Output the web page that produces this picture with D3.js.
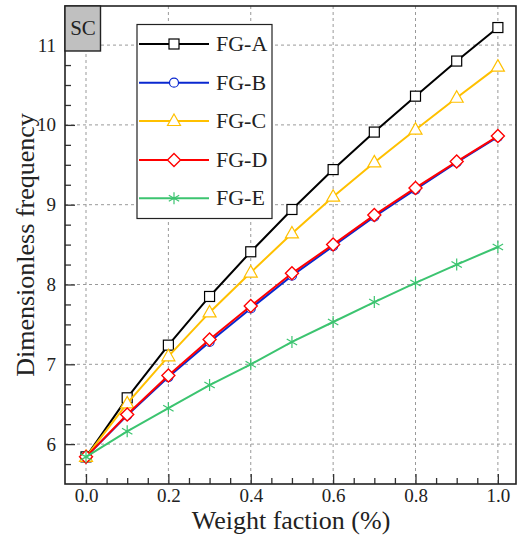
<!DOCTYPE html>
<html><head><meta charset="utf-8">
<script src="https://cdn.jsdelivr.net/npm/d3@7"></script>
<style>body{margin:0;background:#fff}svg{display:block}</style>
</head><body><svg id="c" width="517" height="538"></svg>
<script>
const xValues = [0,0.1,0.2,0.3,0.4,0.5,0.6,0.7,0.8,0.9,1.0];
const fgA = [5.84,6.58,7.24,7.85,8.41,8.94,9.44,9.91,10.36,10.80,11.22];
const fgB = [5.84,6.36,6.84,7.28,7.70,8.11,8.48,8.85,9.19,9.53,9.85];
const fgC = [5.84,6.51,7.10,7.65,8.15,8.64,9.10,9.53,9.94,10.34,10.73];
const fgD = [5.84,6.37,6.86,7.31,7.73,8.14,8.50,8.87,9.21,9.54,9.86];
const fgE = [5.84,6.16,6.45,6.74,7.00,7.28,7.53,7.78,8.02,8.25,8.47];
const seriesNames = ["FG-A","FG-B","FG-C","FG-D","FG-E"];
const xTicks = [0,0.2,0.4,0.6,0.8,1.0];
const yTicks = [6,7,8,9,10,11];

const svg = d3.select("#c");

// pick an installed serif font by measuring against monospace fallback
const probe = svg.append("text").attr("x",-1000).attr("y",-1000).attr("font-size",40).text("Weight faction mmmWiil 0.4");
function w(f){ probe.style("font-family",f); return probe.node().getComputedTextLength(); }
const base = w("monospace");
const cands = ["Liberation Serif","DejaVu Serif","Tinos","Noto Serif","Times New Roman","Times","FreeSerif","Latin Modern Roman","CMU Serif"];
let chosen = null;
for(const c of cands){ if(Math.abs(w(`'${c}', monospace`)-base)>0.5){ chosen=c; break; } }
probe.remove();
const FONT = chosen ? `'${chosen}', serif` : "serif";

const series = [
  {name:"FG-A", vals:fgA, color:"#000000", sym:"square"},
  {name:"FG-B", vals:fgB, color:"#0a28d0", sym:"circle"},
  {name:"FG-C", vals:fgC, color:"#ffc000", sym:"triangle"},
  {name:"FG-D", vals:fgD, color:"#ff0000", sym:"diamond"},
  {name:"FG-E", vals:fgE, color:"#3cc470", sym:"star"}
];

const L=65, R=516, T=6, B=484;
const x = d3.scaleLinear().domain([-0.051,1.044]).range([L,R]);
const y = d3.scaleLinear().domain([5.5,11.49]).range([B,T]);

// grid
const g = svg.append("g");
g.selectAll(".gx").data(xTicks).join("line")
  .attr("x1",d=>x(d)).attr("x2",d=>x(d)).attr("y1",T).attr("y2",B)
  .attr("stroke","#999").attr("stroke-width",1).attr("stroke-dasharray","3,3");
g.selectAll(".gy").data(yTicks).join("line")
  .attr("x1",L).attr("x2",R).attr("y1",d=>y(d)).attr("y2",d=>y(d))
  .attr("stroke","#999").attr("stroke-width",1).attr("stroke-dasharray","3,3");

// axes (ticks inward)
const xMinor = d3.range(0,1.0001,0.05).map(v=>+v.toFixed(2)).filter(v=>!xTicks.some(t=>Math.abs(t-v)<1e-6));
const yMinor = d3.range(5.75,11.3,0.25).map(v=>+v.toFixed(2)).filter(v=>!yTicks.some(t=>Math.abs(t-v)<1e-6));
svg.append("g").attr("transform",`translate(0,${B})`)
  .call(d3.axisBottom(x).tickValues(xMinor).tickSize(-6).tickFormat(""))
  .call(a=>a.select(".domain").remove()).selectAll("line").attr("stroke","#333").attr("stroke-width",1.3);
svg.append("g").attr("transform",`translate(0,${B})`)
  .call(d3.axisBottom(x).tickValues(xTicks).tickSize(-10).tickFormat(d3.format(".1f")))
  .call(a=>a.select(".domain").remove())
  .call(a=>a.selectAll("line").attr("stroke","#333").attr("stroke-width",1.3))
  .call(a=>a.selectAll("text").attr("font-size",19).attr("y",18).attr("dy",0));
svg.append("g").attr("transform",`translate(${L},0)`)
  .call(d3.axisLeft(y).tickValues(yMinor).tickSize(-6).tickFormat(""))
  .call(a=>a.select(".domain").remove()).selectAll("line").attr("stroke","#333").attr("stroke-width",1.3);
svg.append("g").attr("transform",`translate(${L},0)`)
  .call(d3.axisLeft(y).tickValues(yTicks).tickSize(-10).tickFormat(d3.format("d")))
  .call(a=>a.select(".domain").remove())
  .call(a=>a.selectAll("line").attr("stroke","#333").attr("stroke-width",1.3))
  .call(a=>a.selectAll("text").attr("font-size",19).attr("x",-9));
svg.selectAll("g").attr("font-family",null);

// frame
svg.append("rect").attr("x",L).attr("y",T).attr("width",R-L).attr("height",B-T)
  .attr("fill","none").attr("stroke","#222").attr("stroke-width",1.6);

// lines
const line = d3.line().x((d,i)=>x(xValues[i])).y(d=>y(d));
function marker(sel, sym, color, cx, cy){
  const gg = sel.append("g").attr("transform",`translate(${cx},${cy})`);
  if(sym==="square") gg.append("rect").attr("x",-5).attr("y",-5).attr("width",10).attr("height",10).attr("fill","#fff").attr("stroke",color).attr("stroke-width",1.2);
  else if(sym==="circle") gg.append("circle").attr("r",4.5).attr("fill","#fff").attr("stroke",color).attr("stroke-width",1.2);
  else if(sym==="triangle") gg.append("path").attr("d","M0,-7L6.5,4.5L-6.5,4.5Z").attr("fill","#fff").attr("stroke",color).attr("stroke-width",1.2);
  else if(sym==="diamond") gg.append("path").attr("d","M0,-6.5L6.5,0L0,6.5L-6.5,0Z").attr("fill","#fff").attr("stroke",color).attr("stroke-width",1.4);
  else if(sym==="star") gg.append("path").attr("d","M0,-6V6M-5.2,-3L5.2,3M-5.2,3L5.2,-3").attr("fill","none").attr("stroke",color).attr("stroke-width",1.2);
}
series.forEach(s=>{
  svg.append("path").datum(s.vals).attr("d",line).attr("fill","none").attr("stroke",s.color).attr("stroke-width",2);
  const mg = svg.append("g");
  s.vals.forEach((v,i)=>marker(mg,s.sym,s.color,x(xValues[i]),y(v)));
});

// SC box
svg.append("rect").attr("x",L).attr("y",T).attr("width",35.5).attr("height",45)
  .attr("fill","#c0c0c0").attr("stroke","#222").attr("stroke-width",1.4);
svg.append("text").attr("x",L+18).attr("y",T+29).attr("text-anchor","middle").attr("font-size",21).text("SC");

// legend
const lg = svg.append("g");
lg.append("rect").attr("x",137).attr("y",24.5).attr("width",135).attr("height",194)
  .attr("fill","#fff").attr("stroke","#222").attr("stroke-width",1.2);
const legY = [44,82.7,121,160,198.3];
series.forEach((s,i)=>{
  lg.append("line").attr("x1",139).attr("x2",209).attr("y1",legY[i]).attr("y2",legY[i]).attr("stroke",s.color).attr("stroke-width",2);
  marker(lg,s.sym,s.color,174,legY[i]);
  lg.append("text").attr("x",216).attr("y",legY[i]+7).attr("font-size",22).text(seriesNames[i]);
});

// axis titles
const xt = svg.append("text").attr("x",291).attr("y",529).attr("text-anchor","middle").attr("font-size",24).text("Weight faction (%)");
const yt = svg.append("text").attr("transform","translate(34,245) rotate(-90)").attr("text-anchor","middle").attr("font-size",24).text("Dimensionless frequency");

svg.selectAll("text").style("font-family",FONT).style("fill","#222");

function fit(t, w){ const cur = t.node().getComputedTextLength(); const fs = +t.attr("font-size"); t.attr("font-size", Math.min(fs*w/cur, 26)); }
fit(xt,212); fit(yt,287);
</script></body></html>
